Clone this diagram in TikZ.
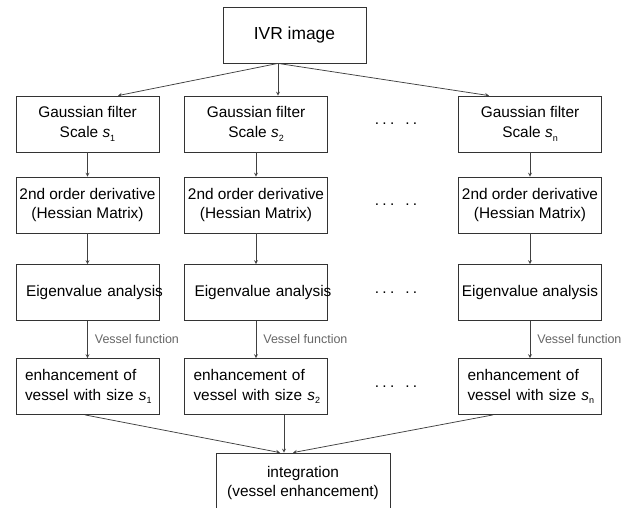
\documentclass[tikz,border=0pt]{standalone}
\usepackage{fontspec}
\setmainfont{Liberation Sans}
\usetikzlibrary{shapes.geometric, arrows, calc}
\tikzstyle{block} = [
	rectangle,
	minimum width=143pt,
	minimum height=56pt,
	align=center,
	inner sep=2pt,
	draw=black!80,
	line width=0.8pt,
	font=\fontsize{15.4}{19.5}\selectfont
]
\tikzstyle{leftblock} = [block, align=left, text width=125pt, inner xsep=9pt]
\tikzstyle{arrow} = [->, >=stealth, draw=black!75, line width=0.75pt]
\tikzstyle{vlabel} = [anchor=west, xshift=7pt, inner sep=0pt, text=black!60, font=\fontsize{12.5}{14}\selectfont]
\tikzstyle{gap} = [font=\fontsize{15.4}{19}\selectfont]
\newcommand{\scl}[1]{\textit{s}\raisebox{-0.45ex}{\fontsize{9}{9}\selectfont #1}}
\newcommand{\gapdots}{.\hspace{3.3pt}.\hspace{3.3pt}.\hspace{11pt}.\hspace{3.3pt}.}

\begin{document}
\begin{tikzpicture}[x=1pt, y=1pt]
            \useasboundingbox (0,0) rectangle (634,-508);
            \node (ivr) [block, font=\fontsize{17.4}{20}\selectfont] at (294.5,-35) {IVR image};
            % first column
            \node (g1) [block] at (87.5,-124) {Gaussian filter\\Scale \scl{1}};
            \node (h1) [block, node distance=81pt, below of=g1] {2nd order derivative\\(Hessian Matrix)};
            \node (e1) [leftblock, inner xsep=10pt, text width=123pt, node distance=87.5pt, below of=h1] {\mbox{Eigenvalue analysis}};
            \node (v1) [leftblock, node distance=94pt, below of=e1] {enhancement of\\\mbox{vessel with size \scl{1}}};
            % second column
            \node (g2) [block, node distance=168.5pt, right of=g1] {Gaussian filter\\Scale \scl{2}};
            \node (h2) [block, node distance=81pt, below of=g2] {2nd order derivative\\(Hessian Matrix)};
            \node (e2) [leftblock, inner xsep=10pt, text width=123pt, node distance=87.5pt, below of=h2] {\mbox{Eigenvalue analysis}};
            \node (v2) [leftblock, node distance=94pt, below of=e2] {enhancement of\\\mbox{vessel with size \scl{2}}};
            % last column
            \node (g3) [block, node distance=274pt, right of=g2] {Gaussian filter\\Scale \scl{n}};
            \node (h3) [block, node distance=81pt, below of=g3] {2nd order derivative\\(Hessian Matrix)};
            \node (e3) [block, node distance=87.5pt, below of=h3] {Eigenvalue analysis};
            \node (v3) [leftblock, node distance=94pt, below of=e3] {enhancement of\\\mbox{vessel with size \scl{n}}};
            % dots between the columns
            \node (dots1) [gap, node distance=140pt, right of=g2] {\gapdots};
            \node (dots2) [gap, node distance=140pt, right of=h2] {\gapdots};
            \node (dots3) [gap, node distance=140pt, right of=e2] {\gapdots};
            \node (dots4) [gap, node distance=140pt, right of=v2] {\gapdots};
            \node (integ) [block, minimum width=174pt, minimum height=60pt] at (303,-483) {integration\\(vessel enhancement)};
            \draw [arrow] ($(ivr.south)+(-16.5,0)$) -- ($(g1.north)+(30.5,0)$);
            \draw [arrow] ($(ivr.south)+(-16.5,0)$) -- ($(g2.north)+(22,0)$);
            \draw [arrow] ($(ivr.south)+(-16.5,0)$) -- ($(g3.north)+(-41,0)$);
            \draw [arrow] (g1) -- (h1);
            \draw [arrow] (h1) -- (e1);
            \draw [arrow] (e1) -- node [vlabel] {Vessel function} (v1);
            \draw [arrow] (g2) -- (h2);
            \draw [arrow] (h2) -- (e2);
            \draw [arrow] (e2) -- node [vlabel] {Vessel function} (v2);
            \draw [arrow] (g3) -- (h3);
            \draw [arrow] (h3) -- (e3);
            \draw [arrow] (e3) -- node [vlabel] {Vessel function} (v3);
            \draw [arrow] ($(v1.south)+(-2.5,0)$) -- ($(integ.north)+(-23,0)$);
            \draw [arrow] ($(v2.south)+(28,0)$) -- ($(integ.north)+(-19,0)$);
            \draw [arrow] ($(v3.south)+(-37,0)$) -- ($(integ.north)+(-10,0)$);
          \end{tikzpicture}
\end{document}
